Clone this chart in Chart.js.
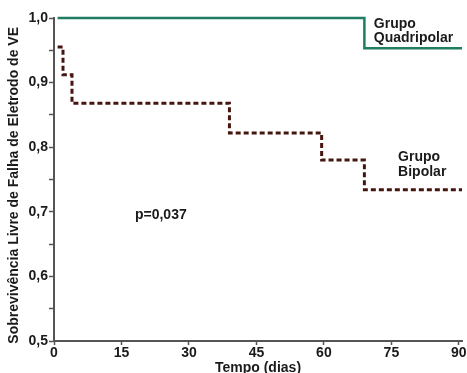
<!DOCTYPE html>
<html>
<head>
<meta charset="utf-8">
<script src="https://cdn.jsdelivr.net/npm/chart.js@4.4.1/dist/chart.umd.min.js"></script>
<style>
  html, body { margin: 0; padding: 0; background: #fff; }
</style>
</head>
<body>
<canvas id="myChart" width="467" height="373"></canvas>
<script>
// Kaplan-Meier steps, day of event -> survival after it
const quadDays = [0.8, 69, 90.7]
const quadSurv = [1.0, 0.953, 0.953]
const bipDays = [0.8, 2, 4, 39, 59.5, 69, 90.7]
const bipSurv = [0.955, 0.912, 0.868, 0.822, 0.78, 0.734, 0.734]
const xTicks = [0, 15, 30, 45, 60, 75, 90]
const yTicks = [0.5, 0.55, 0.6, 0.65, 0.7, 0.75, 0.8, 0.85, 0.9, 0.95, 1.0]

const textColor = '#1a1a1a'
const axisColor = '#555'

let toPoints = (xs, ys) => xs.map((x, i) => ({x: x, y: ys[i]}))

// free text labels placed in data coordinates
const notes = [
    {text: 'Grupo', x: 71.1, y: 0.991},
    {text: 'Quadripolar', x: 71.1, y: 0.969},
    {text: 'Grupo', x: 76.5, y: 0.785},
    {text: 'Bipolar', x: 76.5, y: 0.762},
    {text: 'p=0,037', x: 18, y: 0.695}
]

const notesPlugin = {
    id: 'notes',
    afterDatasetsDraw(chart) {
        const ctx = chart.ctx
        const xs = chart.scales.x, ys = chart.scales.y
        ctx.save()
        ctx.font = 'bold 14px "Liberation Sans", Arial, sans-serif'
        ctx.fillStyle = textColor
        ctx.textBaseline = 'middle'
        ctx.textAlign = 'left'
        notes.forEach(n => {
            ctx.fillText(n.text, xs.getPixelForValue(n.x), ys.getPixelForValue(n.y))
        })
        ctx.restore()
    }
}

const font = {family: '"Liberation Sans", Arial, sans-serif', size: 14, weight: 'bold'}

new Chart('myChart', {
    type: 'line',
    data: {
        datasets: [{
            data: toPoints(quadDays, quadSurv),
            borderColor: '#1f7d62',
            borderWidth: 2.5,
            stepped: 'before',
            pointRadius: 0,
            clip: false
        }, {
            data: toPoints(bipDays, bipSurv),
            borderColor: '#461510',
            borderWidth: 3,
            borderDash: [5, 3],
            stepped: 'before',
            pointRadius: 0,
            clip: false
        }]
    },
    plugins: [notesPlugin],
    options: {
        responsive: false,
        animation: false,
        layout: {padding: {top: 18, right: 5, left: 0, bottom: 0}},
        plugins: {
            legend: {display: false},
            tooltip: {enabled: false}
        },
        scales: {
            x: {
                type: 'linear',
                min: 0,
                max: 90.7,
                afterBuildTicks: axis => { axis.ticks = xTicks.map(v => ({value: v})) },
                afterFit: axis => { axis.height = 32 },
                border: {color: axisColor, width: 2},
                grid: {drawOnChartArea: false, color: axisColor, tickLength: 4, tickWidth: 1.5},
                ticks: {color: textColor, font: font, padding: 0, maxRotation: 0, autoSkip: false},
                title: {display: true, text: 'Tempo (dias)', color: textColor, font: font, padding: {top: 0, bottom: -4}}
            },
            y: {
                type: 'linear',
                min: 0.5,
                max: 1.0,
                afterBuildTicks: axis => { axis.ticks = yTicks.map(v => ({value: v})) },
                afterFit: axis => { axis.width = 54 },
                border: {color: axisColor, width: 2},
                grid: {drawOnChartArea: false, color: axisColor, tickLength: 5, tickWidth: 1.5},
                ticks: {
                    color: textColor,
                    font: font,
                    padding: 1,
                    autoSkip: false,
                    callback: v => Math.round(v * 100) % 10 === 0 ? v.toFixed(1).replace('.', ',') : ''
                },
                // trailing spaces nudge the title a little lower, as in the original
                title: {display: true, text: 'Sobrevivência Livre de Falha de Eletrodo de VE\u00a0\u00a0\u00a0', color: textColor, font: font, padding: {top: 6, bottom: 0}}
            }
        }
    }
})
</script>
</body>
</html>
